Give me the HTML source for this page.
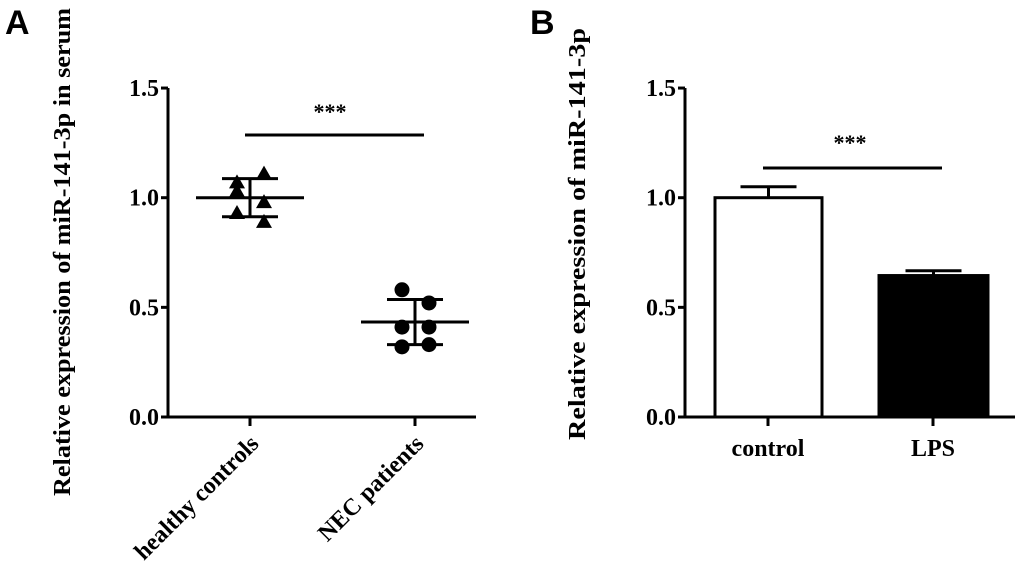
<!DOCTYPE html>
<html><head><meta charset="utf-8"><style>
html,body{margin:0;padding:0;background:#fff;}
svg{display:block;}
text{font-family:"Liberation Serif",serif;font-weight:bold;fill:#000;}
</style></head><body>
<svg id="chart" width="1020" height="584" viewBox="0 0 1020 584" xmlns="http://www.w3.org/2000/svg">
<text x="5" y="34" style="font-family:'Liberation Sans',sans-serif;font-size:34px">A</text>
<text x="530" y="34" style="font-family:'Liberation Sans',sans-serif;font-size:34px">B</text>
<text transform="translate(70,252) rotate(-90)" text-anchor="middle" font-size="24" textLength="488" lengthAdjust="spacingAndGlyphs">Relative expression of miR-141-3p in serum</text>
<text transform="translate(585,234) rotate(-90)" text-anchor="middle" font-size="24" textLength="412" lengthAdjust="spacingAndGlyphs">Relative expression of miR-141-3p</text>
<g id="pa"></g><g id="pb"></g>
</svg>
<script>
const ticks=[0,0.5,1.0,1.5];
const tickLabels=["0.0","0.5","1.0","1.5"];
const groupsA=["healthy controls","NEC patients"];
const healthy=[1.07,1.11,1.03,0.98,0.93,0.89];
const nec=[0.58,0.52,0.41,0.41,0.32,0.33];
const meanA=[1.0,0.433];
const sdA=[0.087,0.103];
const groupsB=["control","LPS"];
const meansB=[1.0,0.645];
const errB=[0.05,0.022];
const NS="http://www.w3.org/2000/svg";
function y(v){return 417-219.3*v;}
function mk(p,tag,a,txt){const e=document.createElementNS(NS,tag);for(const k in a)e.setAttribute(k,a[k]);if(txt!==undefined)e.textContent=txt;p.appendChild(e);return e;}
function axes(p,x0,x1,ticksX,name){
  let e=mk(p,'line',{x1:x0,y1:y(1.5),x2:x0,y2:y(0)+1.5,stroke:'#000','stroke-width':3});
  
  
  e=mk(p,'line',{x1:x0-1.5,y1:y(0),x2:x1,y2:y(0),stroke:'#000','stroke-width':3});
  
  
  ticks.forEach((t,i)=>{
    let l=mk(p,'line',{x1:x0-7,y1:y(t),x2:x0,y2:y(t),stroke:'#000','stroke-width':3});
    
    
    let tx=mk(p,'text',{x:x0-9,y:y(t)+8,'text-anchor':'end','font-size':24},tickLabels[i]);
    
    
  });
  ticksX.forEach(xx=>{
    let l=mk(p,'line',{x1:xx,y1:y(0),x2:xx,y2:y(0)+9,stroke:'#000','stroke-width':3});
    
    
  });
}
// Panel A
const pa=document.getElementById('pa');
const cxA=[250,415];
axes(pa,168,476,cxA,'panel-a');
groupsA.forEach((g,i)=>{
  let t=mk(pa,'text',{transform:`translate(${cxA[i]+10},${445}) rotate(-45)`,'text-anchor':'end','font-size':24},g);
  
  
});
[healthy,nec].forEach((arr,gi)=>{
  const cx=cxA[gi];
  arr.forEach((v,j)=>{
    const px=cx+(j%2===0?-13:14);
    const py=y(v);
    let e;
    if(gi===0) e=mk(pa,'polygon',{points:`${px},${py-8} ${px-8},${py+6} ${px+8},${py+6}`,fill:'#000'});
    else e=mk(pa,'circle',{cx:px,cy:py,r:7.5,fill:'#000'});
    
    
  });
  const m=meanA[gi],s=sdA[gi];
  let e=mk(pa,'line',{x1:cx-54,y1:y(m),x2:cx+54,y2:y(m),stroke:'#000','stroke-width':3});
  
  
  e=mk(pa,'path',{d:`M${cx},${y(m+s)}V${y(m-s)}M${cx-28},${y(m+s)}H${cx+28}M${cx-28},${y(m-s)}H${cx+28}`,stroke:'#000','stroke-width':3,fill:'none'});
  
  
});
let s1=mk(pa,'line',{x1:245,y1:135,x2:424,y2:135,stroke:'#000','stroke-width':3});


let st1=mk(pa,'text',{x:330,y:119,'text-anchor':'middle','font-size':22},'***');


// Panel B
const pb=document.getElementById('pb');
const cxB=[768,933];
axes(pb,685,1015,cxB,'panel-b');
groupsB.forEach((g,i)=>{
  let t=mk(pb,'text',{x:cxB[i],y:456,'text-anchor':'middle','font-size':24},g);
  
  
});
meansB.forEach((v,i)=>{
  const cx=cxB[i]-(i===0?0:0);
  const bx=i===0?715:879;
  const w=i===0?107:109;
  let e=mk(pb,'line',{x1:bx+w/2,y1:y(v),x2:bx+w/2,y2:y(v+errB[i]),stroke:'#000','stroke-width':3});
  
  
  e=mk(pb,'line',{x1:bx+w/2-28,y1:y(v+errB[i]),x2:bx+w/2+28,y2:y(v+errB[i]),stroke:'#000','stroke-width':3});
  
  
  e=mk(pb,'rect',{x:bx,y:y(v),width:w,height:y(0)-y(v),fill:i===0?'#fff':'#000',stroke:'#000','stroke-width':3});
  
  
});
let s2=mk(pb,'line',{x1:763,y1:168,x2:942,y2:168,stroke:'#000','stroke-width':3});


let st2=mk(pb,'text',{x:850,y:150,'text-anchor':'middle','font-size':22},'***');


</script>
</body></html>
